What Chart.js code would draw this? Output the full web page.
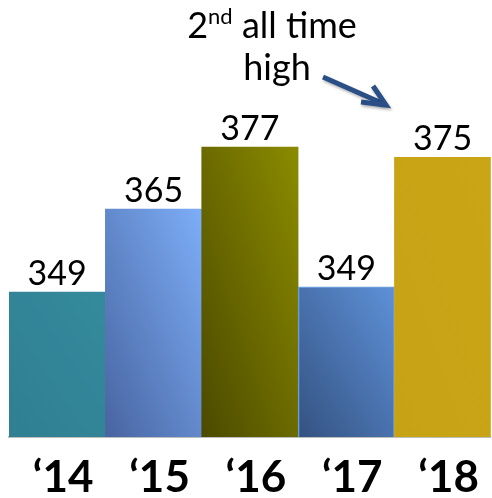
<!DOCTYPE html>
<html>
<head>
<meta charset="utf-8">
<script src="https://cdn.jsdelivr.net/npm/chart.js@4"></script>
<style>
  html, body { margin:0; padding:0; background:#fff; }
  #wrap { width:492px; height:498px; }
</style>
</head>
<body>
<div id="wrap"><canvas id="grafico" width="492" height="498"></canvas></div>
<script>
// data
const anos = ['\u201814', '\u201815', '\u201816', '\u201817', '\u201818'];
const valores = [349, 365, 377, 350, 375];        // bar heights
const rotulos = ['349', '365', '377', '349', '375']; // printed labels
// colours: [bottom-left, top-right] of each bar
const cores = [
  ['#307f92', '#348a9c'],
  ['#4864a0', '#7daef8'],
  ['#4b4a00', '#8b8b00'],
  ['#345281', '#5e91d8'],
  ['#c7a215', '#caa616']
];
const FONTE = 'Lato, "Open Sans", sans-serif';

// diagonal gradient: top-left and bottom-right corners get the same colour
function corBarra(ctx) {
  const chart = ctx.chart, area = chart.chartArea;
  if (!area || !chart.scales.x) return cores[ctx.dataIndex][1];
  const i = ctx.dataIndex;
  const w = area.width / valores.length;
  const x0 = chart.scales.x.getPixelForValue(i) - w/2;
  const h = area.bottom - chart.scales.y.getPixelForValue(valores[i]);
  const t = 2*h*w / (h*h + w*w);
  const g = chart.ctx.createLinearGradient(x0, area.bottom, x0 + t*h, area.bottom - t*w);
  g.addColorStop(0, cores[i][0]);
  g.addColorStop(1, cores[i][1]);
  return g;
}

const rotulosPlugin = {
  id: 'rotulos',
  afterDatasetsDraw(chart) {
    const c = chart.ctx;
    c.save();
    c.font = '34px ' + FONTE;
    c.fillStyle = '#000';
    c.textAlign = 'center';
    c.textBaseline = 'alphabetic';
    chart.getDatasetMeta(0).data.forEach((bar, i) => {
      c.fillText(rotulos[i], bar.x, bar.y - 7);
    });
    c.restore();
  }
};

const notaPlugin = {
  id: 'nota',
  afterDraw(chart) {
    const c = chart.ctx;
    c.save();
    c.fillStyle = '#000';
    c.textBaseline = 'alphabetic';
    // line 1: 2nd all time
    c.font = '36px ' + FONTE;
    const w2 = c.measureText('2').width;
    c.font = '22px ' + FONTE;
    const wnd = c.measureText('nd').width;
    c.font = '36px ' + FONTE;
    const wr = c.measureText(' all time').width;
    let x = 272 - (w2 + wnd + wr) / 2;
    c.textAlign = 'left';
    c.fillText('2', x, 38); x += w2;
    c.font = '22px ' + FONTE;
    c.fillText('nd', x, 24); x += wnd;
    c.font = '36px ' + FONTE;
    c.fillText(' all time', x, 38);
    c.textAlign = 'center';
    c.fillText('high', 277, 80);
    // arrow towards the '18 bar
    c.shadowColor = 'rgba(0,0,0,0.3)';
    c.shadowBlur = 3; c.shadowOffsetX = 1; c.shadowOffsetY = 2;
    c.strokeStyle = '#2a4f86';
    c.lineWidth = 5;
    c.beginPath(); c.moveTo(323, 77); c.lineTo(384, 104); c.stroke();
    c.beginPath(); c.moveTo(361, 102); c.lineTo(386, 105); c.lineTo(373, 86); c.stroke();
    c.restore();
  }
};

new Chart(document.getElementById('grafico'), {
  type: 'bar',
  data: {
    labels: anos,
    datasets: [{
      data: valores,
      backgroundColor: corBarra,
      borderColor: (ctx) => ctx.dataIndex === 3 ? '#6d9cda' : 'rgba(0,0,0,0)',
      borderWidth: (ctx) => ctx.dataIndex === 3 ? 1.5 : 0,
      borderSkipped: false,
      barPercentage: 1,
      categoryPercentage: 1
    }]
  },
  options: {
    responsive: false,
    animation: false,
    layout: { padding: { left: 9, right: 0, top: 28, bottom: 0 } },
    plugins: { legend: { display: false }, tooltip: { enabled: false } },
    scales: {
      x: {
        afterFit: (s) => { s.height = 61; },
        grid: { display: false, drawTicks: false },
        border: { display: true, color: '#bdbdbd', width: 2 },
        ticks: { color: '#000', padding: 19, labelOffset: 6, font: { family: FONTE, size: 44, weight: 'bold', lineHeight: 1.0 } }
      },
      y: {
        display: false,
        min: 321,
        max: 400
      }
    }
  },
  plugins: [rotulosPlugin, notaPlugin]
});
</script>
</body>
</html>
